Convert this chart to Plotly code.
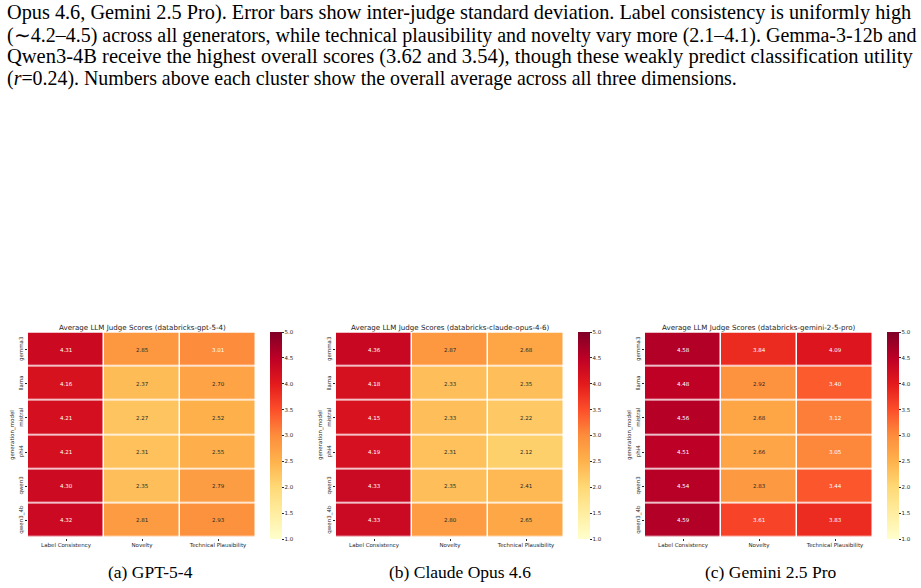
import plotly.graph_objects as go
import numpy as np

models = ["gemma3", "llama", "mistral", "phi4", "qwen3", "qwen3_4b"]
dims = ["Label Consistency", "Novelty", "Technical Plausibility"]

gpt_lc = [4.31, 4.16, 4.21, 4.21, 4.30, 4.32]
gpt_nov = [2.85, 2.37, 2.27, 2.31, 2.35, 2.81]
gpt_tp = [3.01, 2.70, 2.52, 2.55, 2.79, 2.93]

claude_lc = [4.36, 4.18, 4.15, 4.19, 4.33, 4.33]
claude_nov = [2.87, 2.33, 2.33, 2.31, 2.35, 2.80]
claude_tp = [2.68, 2.35, 2.22, 2.12, 2.41, 2.65]

gemini_lc = [4.58, 4.48, 4.56, 4.51, 4.54, 4.59]
gemini_nov = [3.84, 2.92, 2.68, 2.66, 2.83, 3.61]
gemini_tp = [4.09, 3.40, 3.12, 3.05, 3.44, 3.83]

judges = ["databricks-gpt-5-4", "databricks-claude-opus-4-6", "databricks-gemini-2-5-pro"]
subcaps = ["(a) GPT-5-4", "(b) Claude Opus 4.6", "(c) Gemini 2.5 Pro"]

caption_lines = [
    "Opus 4.6, Gemini 2.5 Pro). Error bars show inter-judge standard deviation. Label consistency is uniformly high",
    "(\u223c4.2\u20134.5) across all generators, while technical plausibility and novelty vary more (2.1\u20134.1). Gemma-3-12b and",
    "Qwen3-4B receive the highest overall scores (3.62 and 3.54), though these weakly predict classification utility",
    "(<i>r</i>=0.24). Numbers above each cluster show the overall average across all three dimensions.",
]

ylorrd = ["#ffffcc", "#ffeda0", "#fed976", "#feb24c", "#fd8d3c",
          "#fc4e2a", "#e31a1c", "#bd0026", "#800026"]
cscale = [[i / 8, c] for i, c in enumerate(ylorrd)]
VMIN, VMAX = 1.0, 5.0

def hex2rgb(h):
    return np.array([int(h[i:i + 2], 16) for i in (1, 3, 5)]) / 255.0

def cmap(v):
    t = (v - VMIN) / (VMAX - VMIN) * 8
    i = int(min(max(np.floor(t), 0), 7))
    f = t - i
    return hex2rgb(ylorrd[i]) * (1 - f) + hex2rgb(ylorrd[i + 1]) * f

def lum(rgb):
    rgb = np.where(rgb <= 0.03928, rgb / 12.92, ((rgb + 0.055) / 1.055) ** 2.4)
    return float(rgb.dot([0.2126, 0.7152, 0.0722]))

W, H = 921, 588
panels = [
    (np.array([gpt_lc, gpt_nov, gpt_tp]).T, 28, 256, 270),
    (np.array([claude_lc, claude_nov, claude_tp]).T, 336, 564, 578),
    (np.array([gemini_lc, gemini_nov, gemini_tp]).T, 645, 873, 887),
]
top_px, bot_px = 332.5, 537.5
cb_top, cb_bot = 332, 539

fig = go.Figure()
annotations = []
layout = {}
dark = "#262626"
tickfont = dict(family="DejaVu Sans", size=5.5, color=dark)

for k, (z, x0, x1, cbx) in enumerate(panels):
    n = "" if k == 0 else str(k + 1)
    fig.add_trace(go.Heatmap(
        z=z, x=dims, y=models, colorscale=cscale, zmin=VMIN, zmax=VMAX,
        xgap=1.5, ygap=1.5, xaxis="x" + n, yaxis="y" + n, hoverinfo="skip",
        colorbar=dict(
            x=cbx / W, xanchor="left", y=1 - (cb_top + cb_bot) / 2 / H, yanchor="middle",
            len=cb_bot - cb_top, lenmode="pixels", thickness=11.5,
            outlinewidth=0, ticks="outside", ticklen=2, tickwidth=0.8, tickcolor=dark,
            tickvals=[1.0, 1.5, 2.0, 2.5, 3.0, 3.5, 4.0, 4.5, 5.0], tickformat=".1f",
            tickfont=tickfont, xpad=0, ypad=0,
        ),
    ))
    layout["xaxis" + n] = dict(
        domain=[x0 / W, x1 / W], anchor="y" + n, ticks="outside", ticklen=2,
        tickwidth=0.8, tickcolor=dark, tickfont=tickfont, showgrid=False,
        zeroline=False, showline=False, fixedrange=True,
    )
    layout["yaxis" + n] = dict(
        domain=[1 - bot_px / H, 1 - top_px / H], anchor="x" + n, autorange="reversed",
        ticks="outside", ticklen=2, tickwidth=0.8, tickcolor=dark, tickfont=tickfont,
        tickangle=-90, showgrid=False, zeroline=False, showline=False, fixedrange=True,
    )
    for i, row in enumerate(z):
        for j, v in enumerate(row):
            col = dark if lum(cmap(v)) > 0.408 else "white"
            annotations.append(dict(
                x=dims[j], y=models[i], xref="x" + n, yref="y" + n, text=f"{v:.2f}",
                showarrow=False, font=dict(family="DejaVu Sans", size=5.5, color=col),
            ))
    annotations.append(dict(
        x=(x0 + x1) / 2 / W, y=1 - 327 / H, xref="paper", yref="paper",
        text=f"Average LLM Judge Scores ({judges[k]})", showarrow=False,
        font=dict(family="DejaVu Sans", size=7.1, color=dark),
        xanchor="center", yanchor="middle",
    ))
    annotations.append(dict(
        x=(x0 - 16) / W, y=1 - (top_px + bot_px) / 2 / H, xref="paper", yref="paper",
        text="generation_model", showarrow=False, textangle=-90,
        font=dict(family="DejaVu Sans", size=5.5, color=dark),
        xanchor="center", yanchor="middle",
    ))

sub_x = [150, 460, 770]
for k, s in enumerate(subcaps):
    annotations.append(dict(
        x=sub_x[k] / W, y=1 - 572 / H, xref="paper", yref="paper", text=s,
        showarrow=False, font=dict(family="Liberation Serif", size=17.5, color="black"),
        xanchor="center", yanchor="middle",
    ))

line_y = [13, 35.5, 57, 78.5]
line_size = [20.3, 20.0, 20.5, 19.9]
for s, yy, fs in zip(caption_lines, line_y, line_size):
    annotations.append(dict(
        x=5 / W, y=1 - yy / H, xref="paper", yref="paper", text=s, showarrow=False,
        font=dict(family="Liberation Serif", size=fs, color="black"),
        xanchor="left", yanchor="middle",
    ))

fig.update_layout(
    width=W, height=H, margin=dict(l=0, r=0, t=0, b=0),
    paper_bgcolor="white", plot_bgcolor="white", showlegend=False,
    annotations=annotations, **layout,
)
fig.write_html("out.html", config={"displayModeBar": False})
